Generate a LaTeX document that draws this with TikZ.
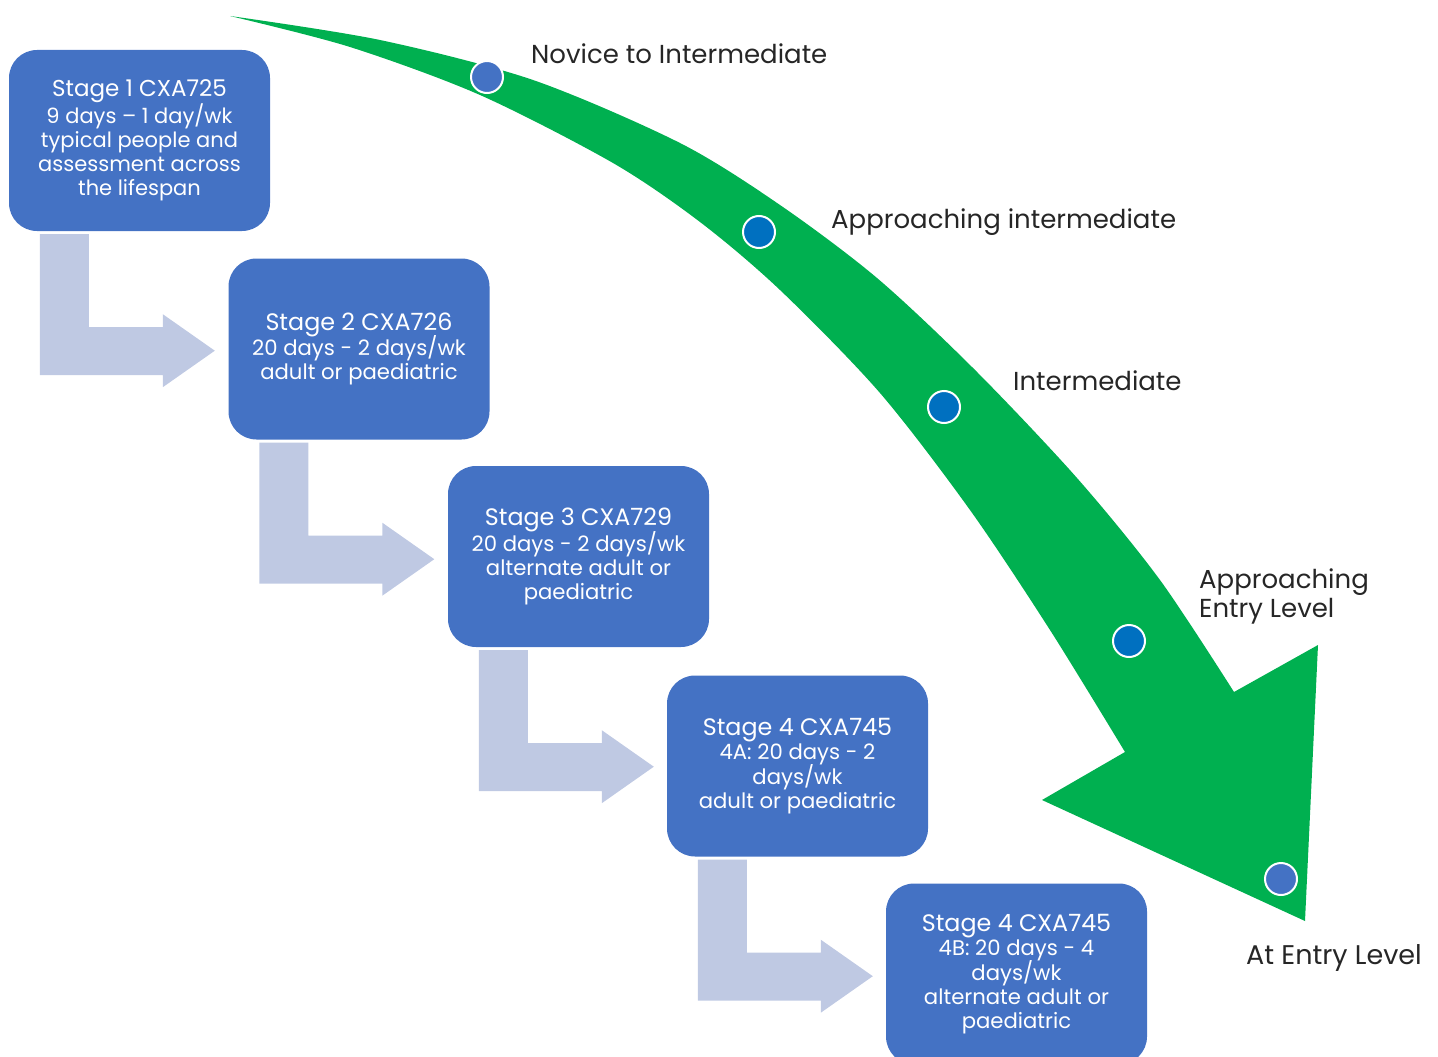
\documentclass[tikz,border=0pt]{standalone}
\usepackage{fontspec}
\setmainfont{Poppins}
\definecolor{boxblue}{HTML}{4472C4}
\definecolor{arrowgrey}{HTML}{BFC9E3}
\definecolor{arcgreen}{HTML}{00B050}
\definecolor{dotdark}{HTML}{0070C0}
\definecolor{labelink}{HTML}{262626}
\newcommand\stgtitle{\fontsize{23.8}{26}\selectfont}
\newcommand\stgbody{\fontsize{21.2}{24}\selectfont}
\newcommand\stgone{\fontsize{21}{24}\selectfont}
\begin{document}
\begin{tikzpicture}[x=1pt,y=-1pt,
  stagebox/.style={rectangle, rounded corners=28pt, fill=boxblue, text=white,
    minimum width=261pt, minimum height=181pt, inner sep=0pt, align=center, font=\stgbody},
  dotmark/.style={circle, draw=white, line width=2pt, minimum size=32pt, inner sep=0pt},
  lvl/.style={anchor=west, text=labelink, font=\fontsize{26}{29}\selectfont, inner sep=0pt, align=left},
  bentarr/.pic={\fill[arrowgrey] (31,3) -- (80,3) -- (80,96) -- (154,96) -- (154,83)
      -- (206,119.5) -- (154,156) -- (154,144) -- (31,144) -- cycle;}
]
\useasboundingbox (0,0) rectangle (1438,1057);

% green curved arrow
\fill[arcgreen] plot[smooth, tension=0.5] coordinates {(230,16) (380,40) (533,80) (680,143) (780,205) (877,278) (975,370) (1077,478) (1160,580) (1234,692)}
  -- (1318,645) -- (1305,921) -- (1042,800) -- (1125,752)
  -- plot[smooth, tension=0.5] coordinates {(1125,752) (1050,630) (970,510) (880,393) (780,290) (700,222) (613,163) (480,95) (350,47) (230,16)}
  -- cycle;

% stage boxes
\node[stagebox] (s1) at (139.5,140.5) {\fontsize{23}{26}\selectfont Stage 1 CXA725\\[0pt] \stgone 9 days -- 1 day/wk\\ \stgone typical people and\\ \stgone assessment across\\ \stgone the lifespan};
\node[stagebox] (s2) at (359,349) {\stgtitle Stage 2 CXA726\\[-3pt] \stgbody 20 days - 2 days/wk\\ \stgbody adult or paediatric};
\node[stagebox] (s3) at (578.5,556.5) {\stgtitle Stage 3 CXA729\\[-2pt] \stgbody 20 days - 2 days/wk\\ \stgbody alternate adult or\\ \stgbody paediatric};
\node[stagebox] (s4) at (797.5,766) {\stgtitle Stage 4 CXA745\\ \stgbody 4A: 20 days - 2\\[-2pt] \stgbody days/wk\\ \stgbody adult or paediatric};
\node[stagebox] (s5) at (1016.5,974) {\stgtitle Stage 4 CXA745\\ \stgbody 4B: 20 days - 4\\[-2pt] \stgbody days/wk\\ \stgbody alternate adult or\\ \stgbody paediatric};

% bent arrows between stages
\pic at (s1.south west) {bentarr};
\pic at (s2.south west) {bentarr};
\pic at (s3.south west) {bentarr};
\pic at (s4.south west) {bentarr};

% milestone dots
\node[dotmark, fill=boxblue] (d1) at (487,77) {};
\node[dotmark, fill=dotdark] (d2) at (759,232) {};
\node[dotmark, fill=dotdark] (d3) at (944,407) {};
\node[dotmark, fill=dotdark] (d4) at (1129,641) {};
\node[dotmark, fill=boxblue] (d5) at (1281,879) {};

% level labels
\node[lvl] (l1) at (531,54) {Novice to Intermediate};
\node[lvl] (l2) at (831,222) {Approaching intermediate};
\node[lvl] (l3) at (1013,381) {Intermediate};
\node[lvl] (l4) at (1199,596.5) {Approaching\\Entry Level};
\node[lvl, font=\fontsize{27}{29}\selectfont] (l5) at (1246,958) {At Entry Level};
\end{tikzpicture}
\end{document}
